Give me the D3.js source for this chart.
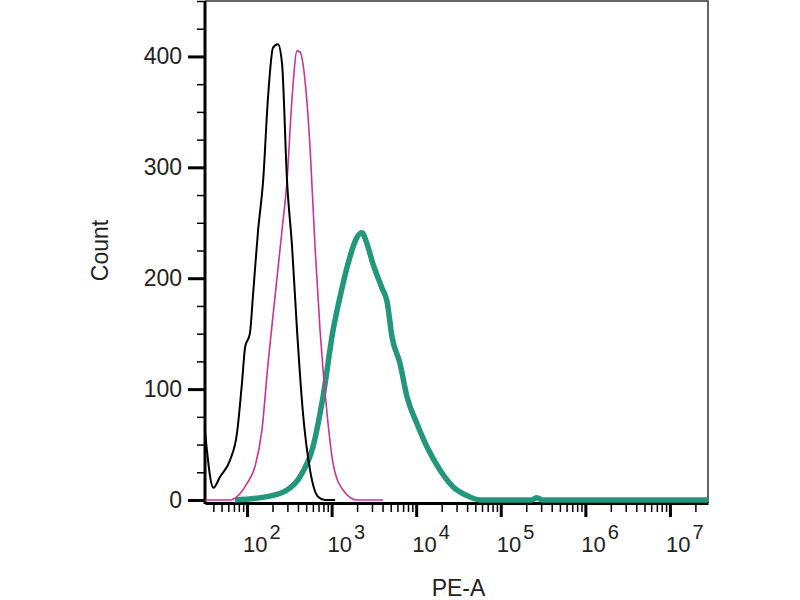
<!DOCTYPE html>
<html>
<head>
<meta charset="utf-8">
<script src="https://cdnjs.cloudflare.com/ajax/libs/d3/7.8.5/d3.min.js"></script>
<style>
    body { margin: 0; background: #fff; }
    svg { display: block; font-family: "Liberation Sans", Arial, sans-serif; }
</style>
</head>
<body>
<div class="histogram"></div>
<script>
"use strict";

// PE-A intensity (x) and event count (y)
const blackX = [32, 40, 48, 63, 76, 87, 95, 108, 118, 135, 155, 177, 203, 232, 259, 297, 341, 390, 459, 556, 691, 835, 1100];
const blackCount = [60, 11, 21, 36, 60, 105, 138, 150, 186, 243, 288, 363, 408, 411, 394, 288, 228, 153, 78, 27, 3, 0, 0];

const pinkX = [32, 63, 76, 100, 124, 150, 177, 214, 259, 297, 341, 390, 423, 485, 556, 637, 730, 883, 1040, 1365, 1995, 4055];
const pinkCount = [0, 0, 3, 15, 30, 63, 123, 183, 243, 288, 363, 405, 404, 378, 318, 228, 153, 78, 33, 9, 0, 0];

const tealX = [72, 172, 297, 423, 602, 791, 1040, 1256, 1563, 1995, 2286, 2620, 3084, 3945, 4520, 5180, 6440, 7790, 10200, 13400, 19100, 27200, 39800, 56800, 230000, 268000, 310000, 28000000];
const tealCount = [0, 3, 9, 21, 48, 93, 153, 183, 213, 237, 241, 231, 213, 191, 179, 147, 123, 93, 69, 48, 27, 12, 4, 0, 0, 2, 0, 0];

const yTicks = [0, 100, 200, 300, 400];
const xDecades = [2, 3, 4, 5, 6, 7];

function draw() {
    let margin = {top: 1, right: 92, bottom: 100, left: 205};
    let width = 800 - margin.left - margin.right;
    let height = 600 - margin.top - margin.bottom;

    let x = d3.scaleLog().domain([Math.pow(10, 1.503), Math.pow(10, 7.45)]).range([0, width]);
    let y = d3.scaleLinear().domain([0, 450]).range([height, 0]);

    let svg = d3.select(".histogram").append("svg")
        .attr("width", 800)
        .attr("height", 600)
        .append("g")
        .attr("transform", "translate(" + margin.left + "," + margin.top + ")");

    // frame top and right
    svg.append("path")
        .attr("d", "M0,0H" + width + "V" + (height + 3))
        .style("fill", "none")
        .style("stroke", "#333")
        .style("stroke-width", "1.5px");

    // y axis
    let yMinor = d3.range(0, 451, 25).filter(v => v % 100 !== 0);
    svg.append("g")
        .attr("class", "y minor")
        .call(d3.axisLeft(y).tickValues(yMinor).tickSize(8).tickFormat(""))
        .call(g => g.select(".domain").remove())
        .selectAll("line").style("stroke-width", "1.5px");
    let yAxis = svg.append("g")
        .attr("class", "y axis")
        .call(d3.axisLeft(y).tickValues(yTicks).tickSize(17).tickSizeOuter(0).tickPadding(6));
    yAxis.select(".domain").attr("d", "M0,0V" + (height + 4)).style("stroke-width", "3px");
    yAxis.selectAll("line").style("stroke-width", "3px");
    yAxis.selectAll("text")
        .style("font-size", "23px")
        .style("fill", "#222");

    // x axis, sits a little under the zero line
    let xMinor = [];
    for (let e = 1; e <= 7; e++) {
        for (let m = 2; m <= 9; m++) {
            let v = m * Math.pow(10, e);
            if (v >= x.domain()[0] && v <= x.domain()[1]) xMinor.push(v);
        }
    }
    svg.append("g")
        .attr("class", "x minor")
        .attr("transform", "translate(0," + (height + 3) + ")")
        .call(d3.axisBottom(x).tickValues(xMinor).tickSize(9).tickFormat(""))
        .call(g => g.select(".domain").remove())
        .selectAll("line").style("stroke-width", "1.5px");
    let xAxis = svg.append("g")
        .attr("class", "x axis")
        .attr("transform", "translate(0," + (height + 3) + ")")
        .call(d3.axisBottom(x).tickValues(xDecades.map(e => Math.pow(10, e))).tickSize(14).tickSizeOuter(0).tickFormat(""));
    xAxis.select(".domain").style("stroke-width", "3px");
    xAxis.selectAll("line").style("stroke-width", "3px");

    let xLabel = svg.append("g").selectAll("text")
        .data(xDecades)
        .enter()
        .append("text")
        .attr("x", e => x(Math.pow(10, e)) - 4)
        .attr("y", height + 52)
        .style("font-size", "22px")
        .style("fill", "#222");
    xLabel.append("tspan").text("10");
    xLabel.append("tspan")
        .attr("dx", "2")
        .attr("dy", "-13")
        .style("font-size", "20px")
        .text(e => e);

    svg.append("text")
        .attr("transform", "translate(" + (-97) + "," + (height / 2) + ") rotate(-90)")
        .style("text-anchor", "middle")
        .style("font-size", "23px")
        .style("fill", "#222")
        .text("Count");

    svg.append("text")
        .attr("x", width / 2 + 2)
        .attr("y", height + 96)
        .style("text-anchor", "middle")
        .style("font-size", "23px")
        .style("fill", "#222")
        .text("PE-A");

    // histograms on top of the axes
    let line = d3.line()
        .x(d => x(d[0]))
        .y(d => y(d[1]))
        .curve(d3.curveMonotoneX);

    let plot = svg.append("g");
    plot.append("path")
        .attr("d", line(d3.zip(tealX, tealCount)))
        .style("fill", "none")
        .style("stroke", "#23977b")
        .style("stroke-width", "5.5px")
        .style("stroke-linejoin", "round");
    plot.append("path")
        .attr("d", line(d3.zip(pinkX, pinkCount)))
        .style("fill", "none")
        .style("stroke", "#cc3399")
        .style("stroke-width", "1.6px");
    plot.append("path")
        .attr("d", line(d3.zip(blackX, blackCount)))
        .style("fill", "none")
        .style("stroke", "#000")
        .style("stroke-width", "2px");
}

draw();
</script>
</body>
</html>
